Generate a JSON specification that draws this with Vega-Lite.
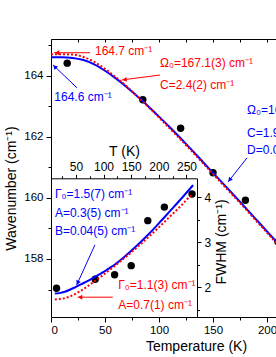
{
"$schema": "https://vega.github.io/schema/vega-lite/v6.json",
"width": 225, "height": 278,
"autosize": {"type": "none"},
"padding": {"left": 51, "top": 39, "right": 0, "bottom": 40},
"background": "white",
"config": {
  "view": {"stroke": null},
  "font": "Liberation Sans",
  "axis": {"labelFont": "Liberation Sans", "labelFontSize": 12, "labelColor": "#000", "titleFont": "Liberation Sans", "titleFontSize": 14, "titleFontWeight": "normal", "titleColor": "#000", "domainColor": "#000", "tickColor": "#000", "grid": false, "domainWidth": 1, "tickWidth": 1},
  "text": {"font": "Liberation Sans", "fontSize": 12}
},
"datasets": {
  "mainPts": [{"T":15,"w":164.41},{"T":85,"w":163.21},{"T":120,"w":162.28},{"T":150,"w":160.82},{"T":180,"w":159.92},{"T":210,"w":158.57}],
  "mainRed": [{"T":0,"w":164.70,"fit":"3-phonon"},{"T":10,"w":164.70,"fit":"3-phonon"},{"T":20,"w":164.69,"fit":"3-phonon"},{"T":30,"w":164.61,"fit":"3-phonon"},{"T":40,"w":164.45,"fit":"3-phonon"},{"T":50,"w":164.22,"fit":"3-phonon"},{"T":60,"w":163.95,"fit":"3-phonon"},{"T":70,"w":163.65,"fit":"3-phonon"},{"T":80,"w":163.32,"fit":"3-phonon"},{"T":90,"w":162.98,"fit":"3-phonon"},{"T":100,"w":162.63,"fit":"3-phonon"},{"T":110,"w":162.27,"fit":"3-phonon"},{"T":120,"w":161.91,"fit":"3-phonon"},{"T":130,"w":161.54,"fit":"3-phonon"},{"T":140,"w":161.16,"fit":"3-phonon"},{"T":150,"w":160.78,"fit":"3-phonon"},{"T":160,"w":160.40,"fit":"3-phonon"},{"T":170,"w":160.02,"fit":"3-phonon"},{"T":180,"w":159.64,"fit":"3-phonon"},{"T":190,"w":159.25,"fit":"3-phonon"},{"T":200,"w":158.86,"fit":"3-phonon"},{"T":210,"w":158.47,"fit":"3-phonon"}],
  "mainBlue": [{"T":0,"w":164.60,"fit":"4-phonon"},{"T":10,"w":164.60,"fit":"4-phonon"},{"T":20,"w":164.58,"fit":"4-phonon"},{"T":30,"w":164.51,"fit":"4-phonon"},{"T":40,"w":164.37,"fit":"4-phonon"},{"T":50,"w":164.16,"fit":"4-phonon"},{"T":60,"w":163.91,"fit":"4-phonon"},{"T":70,"w":163.63,"fit":"4-phonon"},{"T":80,"w":163.32,"fit":"4-phonon"},{"T":90,"w":163.00,"fit":"4-phonon"},{"T":100,"w":162.66,"fit":"4-phonon"},{"T":110,"w":162.31,"fit":"4-phonon"},{"T":120,"w":161.95,"fit":"4-phonon"},{"T":130,"w":161.58,"fit":"4-phonon"},{"T":140,"w":161.20,"fit":"4-phonon"},{"T":150,"w":160.82,"fit":"4-phonon"},{"T":160,"w":160.44,"fit":"4-phonon"},{"T":170,"w":160.06,"fit":"4-phonon"},{"T":180,"w":159.68,"fit":"4-phonon"},{"T":190,"w":159.29,"fit":"4-phonon"},{"T":200,"w":158.90,"fit":"4-phonon"},{"T":210,"w":158.51,"fit":"4-phonon"}],
  "mainText": [
    {"T":40.7,"w":164.81,"label":"164.7 cm⁻¹","fit":"3-phonon"},
    {"T":100.9,"w":164.41,"label":"Ω₀=167.1(3) cm⁻¹","fit":"3-phonon"},
    {"T":100.9,"w":163.70,"label":"C=2.4(2) cm⁻¹","fit":"3-phonon"},
    {"T":3.1,"w":163.31,"label":"164.6 cm⁻¹","fit":"4-phonon"},
    {"T":181.5,"w":162.88,"label":"Ω₀=166.6(4) cm⁻¹","fit":"4-phonon"},
    {"T":181.5,"w":162.12,"label":"C=1.9(3) cm⁻¹","fit":"4-phonon"},
    {"T":181.5,"w":161.57,"label":"D=0.05(3) cm⁻¹","fit":"4-phonon"}
  ],
  "mainArrows": [
    {"id":"R1","T":36.1,"w":164.75,"T2":2.8,"w2":164.75,"hT":5.6,"hw":164.75,"fit":"3-phonon"},
    {"id":"R2","T":100.9,"w":164.02,"T2":65.7,"w2":163.86,"hT":68.1,"hw":163.87,"fit":"3-phonon"},
    {"id":"B1","T":24.1,"w":163.60,"T2":1.9,"w2":164.35,"hT":3.5,"hw":164.29,"fit":"4-phonon"},
    {"id":"B2","T":181.5,"w":161.31,"T2":163.9,"w2":160.52,"hT":165.4,"hw":160.59,"fit":"4-phonon"}
  ],
  "insetPts": [{"T":15,"F":1.98},{"T":85,"F":2.18},{"T":120,"F":2.28},{"T":150,"F":2.48},{"T":180,"F":3.48},{"T":210,"F":3.78},{"T":260,"F":4.07}],
  "insetBlue": [{"T":12,"F":1.86,"fit":"4-phonon"},{"T":20,"F":1.87,"fit":"4-phonon"},{"T":30,"F":1.90,"fit":"4-phonon"},{"T":40,"F":1.95,"fit":"4-phonon"},{"T":50,"F":2.01,"fit":"4-phonon"},{"T":60,"F":2.07,"fit":"4-phonon"},{"T":70,"F":2.13,"fit":"4-phonon"},{"T":80,"F":2.20,"fit":"4-phonon"},{"T":90,"F":2.27,"fit":"4-phonon"},{"T":100,"F":2.34,"fit":"4-phonon"},{"T":110,"F":2.42,"fit":"4-phonon"},{"T":120,"F":2.50,"fit":"4-phonon"},{"T":140,"F":2.70,"fit":"4-phonon"},{"T":160,"F":2.92,"fit":"4-phonon"},{"T":180,"F":3.16,"fit":"4-phonon"},{"T":200,"F":3.42,"fit":"4-phonon"},{"T":220,"F":3.69,"fit":"4-phonon"},{"T":240,"F":3.96,"fit":"4-phonon"},{"T":262,"F":4.27,"fit":"4-phonon"}],
  "insetRed": [{"T":12,"F":1.73,"fit":"3-phonon"},{"T":20,"F":1.74,"fit":"3-phonon"},{"T":30,"F":1.76,"fit":"3-phonon"},{"T":40,"F":1.80,"fit":"3-phonon"},{"T":50,"F":1.86,"fit":"3-phonon"},{"T":60,"F":1.93,"fit":"3-phonon"},{"T":80,"F":2.10,"fit":"3-phonon"},{"T":100,"F":2.28,"fit":"3-phonon"},{"T":120,"F":2.47,"fit":"3-phonon"},{"T":140,"F":2.67,"fit":"3-phonon"},{"T":160,"F":2.88,"fit":"3-phonon"},{"T":180,"F":3.10,"fit":"3-phonon"},{"T":200,"F":3.33,"fit":"3-phonon"},{"T":220,"F":3.57,"fit":"3-phonon"},{"T":240,"F":3.81,"fit":"3-phonon"},{"T":260,"F":4.07,"fit":"3-phonon"}],
  "insetText": [
    {"T":12.1,"F":4.07,"label":"Γ₀=1.5(7) cm⁻¹","fit":"4-phonon"},
    {"T":12.1,"F":3.64,"label":"A=0.3(5) cm⁻¹","fit":"4-phonon"},
    {"T":12.1,"F":3.24,"label":"B=0.04(5) cm⁻¹","fit":"4-phonon"},
    {"T":126.6,"F":2.05,"label":"Γ₀=1.1(3) cm⁻¹","fit":"3-phonon"},
    {"T":126.6,"F":1.61,"label":"A=0.7(1) cm⁻¹","fit":"3-phonon"}
  ],
  "insetArrows": [
    {"id":"IB","T":84.4,"F":2.94,"T2":51.4,"F2":2.05,"hT":53.2,"hF":2.10,"fit":"4-phonon"},
    {"id":"IR","T":116.5,"F":1.78,"T2":53.2,"F2":1.78,"hT":57.7,"hF":1.78,"fit":"3-phonon"}
  ]
},
"resolve": {"scale": {"x": "independent", "y": "independent"}, "axis": {"x": "independent", "y": "independent"}},
"layer": [
  {
    "encoding": {
      "x": {"field": "T", "type": "quantitative", "scale": {"domain": [0, 208.3], "nice": false, "zero": false},
        "axis": {"orient": "bottom", "values": [0,25,50,75,100,125,150,175,200], "labelExpr": "datum.value % 50 === 0 ? datum.label : ''", "tickSize": {"condition": {"test": "datum.value % 50 === 0", "value": 5}, "value": 3}, "labelPadding": 2, "labelFontSize": 11.5, "title": "Temperature (K)", "titleX": 145, "titleY": 22, "titleBaseline": "top"}},
      "y": {"field": "w", "type": "quantitative", "scale": {"domain": [156.1, 165.2], "nice": false, "zero": false},
        "axis": {"orient": "left", "values": [157,158,159,160,161,162,163,164,165], "labelExpr": "datum.value % 2 === 0 ? datum.label : ''", "tickSize": {"condition": {"test": "datum.value % 2 === 0", "value": 5}, "value": 3}, "labelPadding": 3, "labelFontSize": 11.5, "title": "Wavenumber (cm⁻¹)", "titleX": -33, "titleY": 149, "titleBaseline": "bottom", "titleAngle": 270}},
      "color": {"field": "fit", "type": "nominal", "scale": {"domain": ["3-phonon", "4-phonon"], "range": ["#ff0000", "#0000ff"]}, "legend": null}
    },
    "layer": [
      {"data": {"name": "mainPts"}, "mark": {"type": "circle", "size": 55, "opacity": 1, "clip": true}, "encoding": {"color": {"value": "#000000"}}},
      {"data": {"name": "mainBlue"}, "mark": {"type": "line", "strokeWidth": 2, "clip": true, "interpolate": "monotone"}},
      {"data": {"name": "mainRed"}, "mark": {"type": "line", "strokeWidth": 2, "strokeDash": [2, 2], "clip": true, "interpolate": "monotone"}},
      {"data": {"name": "mainText"}, "mark": {"type": "text", "align": "left", "baseline": "middle", "clip": true, "fontSize": 12}, "encoding": {"text": {"field": "label"}}},
      {"data": {"name": "mainArrows"}, "mark": {"type": "rule", "strokeWidth": 1}, "encoding": {"x2": {"field": "T2"}, "y2": {"field": "w2"}}},
      {"data": {"name": "mainArrows"}, "transform": [{"filter": "datum.id === 'R1'"}], "mark": {"type": "point", "shape": "triangle-up", "filled": true, "size": 24, "opacity": 1, "angle": 270}, "encoding": {"x": {"field": "hT", "type": "quantitative"}, "y": {"field": "hw", "type": "quantitative"}}},
      {"data": {"name": "mainArrows"}, "transform": [{"filter": "datum.id === 'R2'"}], "mark": {"type": "point", "shape": "triangle-up", "filled": true, "size": 24, "opacity": 1, "angle": 262}, "encoding": {"x": {"field": "hT", "type": "quantitative"}, "y": {"field": "hw", "type": "quantitative"}}},
      {"data": {"name": "mainArrows"}, "transform": [{"filter": "datum.id === 'B1'"}], "mark": {"type": "point", "shape": "triangle-up", "filled": true, "size": 24, "opacity": 1, "angle": 314}, "encoding": {"x": {"field": "hT", "type": "quantitative"}, "y": {"field": "hw", "type": "quantitative"}}},
      {"data": {"name": "mainArrows"}, "transform": [{"filter": "datum.id === 'B2'"}], "mark": {"type": "point", "shape": "triangle-up", "filled": true, "size": 24, "opacity": 1, "angle": 218}, "encoding": {"x": {"field": "hT", "type": "quantitative"}, "y": {"field": "hw", "type": "quantitative"}}}
    ]
  },
  {
    "data": {"name": "mainPts"},
    "mark": {"type": "point", "opacity": 0},
    "encoding": {
      "x": {"field": "T", "type": "quantitative", "scale": {"domain": [0, 208.3], "nice": false, "zero": false},
        "axis": {"orient": "top", "values": [0,25,50,75,100,125,150,175,200], "labels": false, "tickSize": -3, "title": null}}
    }
  },
  {
    "encoding": {
      "x": {"field": "T", "type": "quantitative", "scale": {"domain": [5, 269], "range": [0, 146], "nice": false, "zero": false},
        "axis": {"orient": "top", "offset": -139.3, "values": [25,50,75,100,125,150,175,200,225,250], "labelExpr": "datum.value % 50 === 0 ? datum.label : ''", "tickSize": {"condition": {"test": "datum.value % 50 === 0", "value": 4}, "value": 2.5}, "labelPadding": 1, "title": "T (K)", "titlePadding": 2}},
      "y": {"field": "F", "type": "quantitative", "scale": {"domain": [1.34, 4.42], "range": [278, 139.3], "nice": false, "zero": false},
        "axis": {"orient": "right", "offset": -79, "values": [1.5,2,2.5,3,3.5,4], "labelExpr": "datum.value % 1 === 0 ? format(datum.value, 'd') : ''", "tickSize": {"condition": {"test": "datum.value % 1 === 0", "value": 4}, "value": 2.5}, "labelPadding": 3, "title": "FWHM (cm⁻¹)", "titleAngle": 270, "titleBaseline": "bottom", "titleX": 31, "titleY": 202.5}},
      "color": {"field": "fit", "type": "nominal", "scale": {"domain": ["3-phonon", "4-phonon"], "range": ["#ff0000", "#0000ff"]}, "legend": null}
    },
    "layer": [
      {"data": {"name": "insetPts"}, "mark": {"type": "circle", "size": 55, "opacity": 1}, "encoding": {"color": {"value": "#000000"}}},
      {"data": {"name": "insetBlue"}, "mark": {"type": "line", "strokeWidth": 2, "interpolate": "monotone"}},
      {"data": {"name": "insetRed"}, "mark": {"type": "line", "strokeWidth": 2, "strokeDash": [2, 2], "interpolate": "monotone"}},
      {"data": {"name": "insetText"}, "mark": {"type": "text", "align": "left", "baseline": "middle", "fontSize": 12}, "encoding": {"text": {"field": "label"}}},
      {"data": {"name": "insetArrows"}, "mark": {"type": "rule", "strokeWidth": 1}, "encoding": {"x2": {"field": "T2"}, "y2": {"field": "F2"}}},
      {"data": {"name": "insetArrows"}, "transform": [{"filter": "datum.id === 'IB'"}], "mark": {"type": "point", "shape": "triangle-up", "filled": true, "size": 24, "opacity": 1, "angle": 205}, "encoding": {"x": {"field": "hT", "type": "quantitative"}, "y": {"field": "hF", "type": "quantitative"}}},
      {"data": {"name": "insetArrows"}, "transform": [{"filter": "datum.id === 'IR'"}], "mark": {"type": "point", "shape": "triangle-up", "filled": true, "size": 24, "opacity": 1, "angle": 270}, "encoding": {"x": {"field": "hT", "type": "quantitative"}, "y": {"field": "hF", "type": "quantitative"}}}
    ]
  }
]
}
